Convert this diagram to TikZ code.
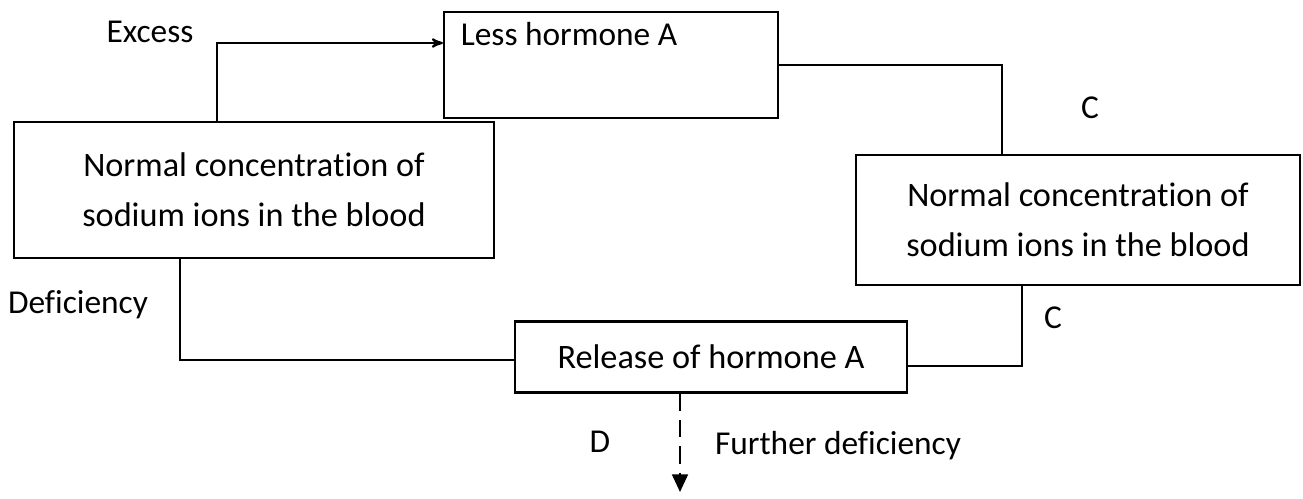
\documentclass[tikz,border=0pt]{standalone}
\usepackage{fontspec}
\setmainfont{Carlito}[Ligatures=NoCommon]
\usetikzlibrary{arrows, arrows.meta}

\begin{document}
\begin{tikzpicture}[x=0.02cm, y=-0.02cm, line width=1.2pt, >=stealth',
		box/.style={draw, rectangle, align=center, inner sep=0pt, font=\fontsize{19.5}{28.5}\selectfont},
		lbl/.style={font=\fontsize{19}{22}\selectfont}]
		\useasboundingbox (0, 0) rectangle (1303, 499);
		
		\node[box, minimum width=6.68cm, minimum height=2.12cm] (less) at (611, 65) {};
		\node[lbl] (lesstext) at (569, 34) {Less hormone A};
		\node[box, minimum width=9.6cm, minimum height=2.72cm] (normL) at (254, 190) {Normal concentration of\\sodium ions in the blood};
		\node[box, minimum width=8.88cm, minimum height=2.6cm] (normR) at (1078, 220) {Normal concentration of\\sodium ions in the blood};
		\node[box, minimum width=7.84cm, minimum height=1.42cm] (rel) at (711, 357) {Release of hormone A};
		
		\node[lbl] (excess) at (150, 32) {Excess};
		\node[lbl] (defic) at (78, 305) {Deficiency};
		\node[lbl] (c1) at (1090, 108) {C};
		\node[lbl] (c2) at (1053, 318) {C};
		\node[lbl] (d) at (600, 442) {D};
		\node[lbl] (further) at (838, 446) {Further deficiency};
		
		\coordinate (ex) at (217, 43);
		\coordinate (cup) at (1002, 65);
		\coordinate (cdown) at (1022, 366);
		\coordinate (def) at (180, 360);
		\coordinate (fd) at (680, 492);
		
		\draw[->] (normL.north -| ex) -- (ex) -- (less.west |- ex);
		\draw (less.east |- cup) -| (normR.north -| cup);
		\draw (normR.south -| cdown) |- (rel.east |- cdown);
		\draw (normL.south -| def) |- (rel.west |- def);
		\draw[-{Triangle[length=10pt, width=9pt]}, dash pattern=on 10pt off 5pt] (rel.south -| fd) -- (fd);
	\end{tikzpicture}
\end{document}
